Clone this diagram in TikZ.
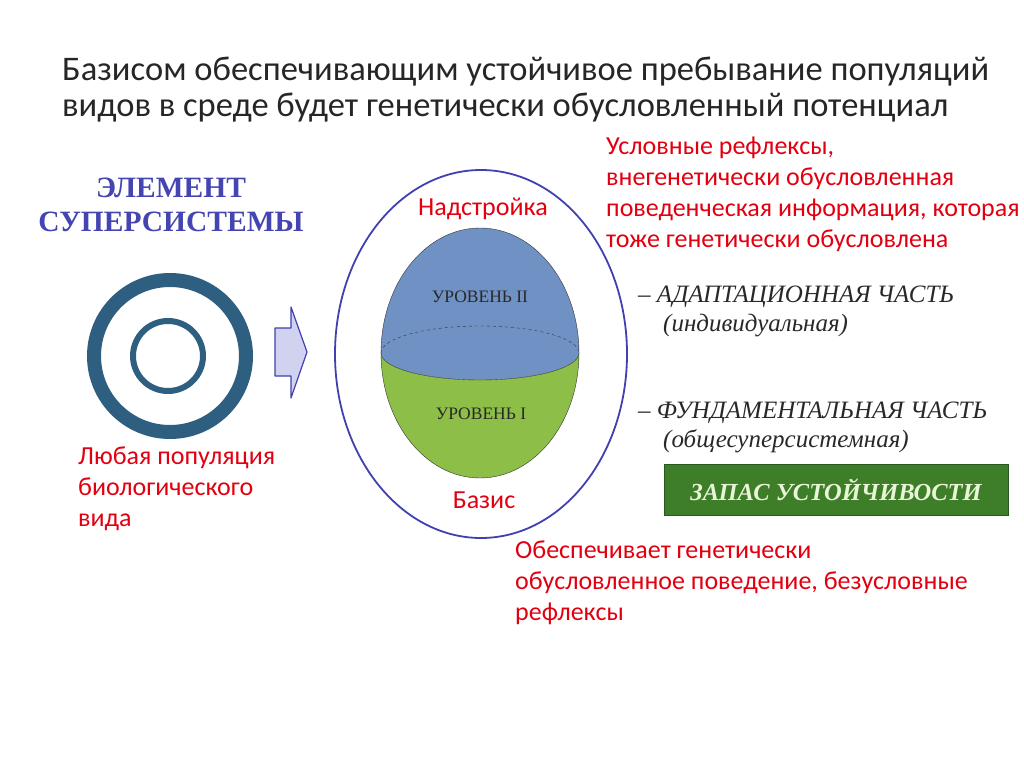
\documentclass[tikz,border=0pt]{standalone}
\usepackage{fontspec}
\setmainfont{Carlito}
\newfontfamily\tnr{Liberation Serif}
\definecolor{redtext}{RGB}{226,0,16}
\definecolor{headblue}{RGB}{68,68,178}
\definecolor{ringblue}{RGB}{46,94,128}
\definecolor{ovalblue}{RGB}{64,64,176}
\definecolor{topblue}{RGB}{112,145,196}
\definecolor{lowgreen}{RGB}{141,190,72}
\definecolor{boxgreen}{RGB}{62,126,40}
\definecolor{darktext}{RGB}{40,40,40}
\tikzset{
  redlabel/.style={text=redtext, font=\fontsize{26}{31}\selectfont, align=left, inner sep=0pt},
  levellabel/.style={text=darktext, font=\tnr\fontsize{17.5}{20}\selectfont, inner sep=0pt},
  partlabel/.style={text=darktext, font=\tnr\itshape\fontsize{25}{29}\selectfont, align=left, inner sep=0pt}
}
\begin{document}
\begin{tikzpicture}[x=1pt,y=-1pt]
\useasboundingbox (0,0) rectangle (1024,767);
% title
\node[anchor=west, align=left, inner sep=0pt, text=black!85, font=\fontsize{34.5}{36}\selectfont] (title) at (62,90)
  {Базисом обеспечивающим устойчивое пребывание популяций\\видов в среде будет генетически обусловленный потенциал};
% left part
\node[text=headblue, font=\tnr\bfseries\fontsize{29.5}{34}\selectfont, align=center, inner sep=0pt] (head) at (171,205)
  {ЭЛЕМЕНТ\\СУПЕРСИСТЕМЫ};
\draw[ringblue, line width=14pt] (170,356) circle (76pt);
\draw[ringblue, line width=6pt] (168,356) circle (35pt);
\draw[ovalblue, fill={rgb,255:red,208;green,210;blue,240}, line width=1.2pt, line join=round]
  (275,328) -- (291,328) -- (291,307) -- (307,352) -- (291,398) -- (291,376) -- (275,376) -- cycle;
\node[redlabel, anchor=west] (anypop) at (78,489) {Любая популяция\\биологического\\вида};
% outer oval and the egg
\draw[ovalblue, line width=1.8pt] (481,354) ellipse (146pt and 184pt);
\fill[topblue] (381,353) arc[start angle=180, end angle=0, x radius=99pt, y radius=125pt]
  arc[start angle=0, end angle=-180, x radius=99pt, y radius=27pt] -- cycle;
\fill[lowgreen] (381,353) arc[start angle=180, end angle=360, x radius=99pt, y radius=125pt]
  arc[start angle=0, end angle=-180, x radius=99pt, y radius=27pt] -- cycle;
\draw[black!80, thin, dashed] (381,353) arc[start angle=180, end angle=0, x radius=99pt, y radius=27pt];
\draw[black!80, thin] (381,353) arc[start angle=180, end angle=360, x radius=99pt, y radius=27pt];
\draw[black!80, thin] (480,353) ellipse (99pt and 125pt);
\node[levellabel] (lev2) at (480,297) {УРОВЕНЬ II};
\node[levellabel] (lev1) at (481,414) {УРОВЕНЬ I};
\node[redlabel] (upper) at (483,209) {Надстройка};
\node[redlabel] (base) at (484,500) {Базис};
% right part
\node[redlabel, anchor=west] (cond) at (606,194) {Условные рефлексы,\\внегенетически обусловленная\\поведенческая информация, которая\\тоже генетически обусловлена};
\node[partlabel, anchor=west] (adapt) at (638,311) {– АДАПТАЦИОННАЯ ЧАСТЬ\\\hspace*{25pt}(индивидуальная)};
\node[partlabel, anchor=west] (fund) at (638,427) {– ФУНДАМЕНТАЛЬНАЯ ЧАСТЬ\\\hspace*{25pt}(общесуперсистемная)};
\node[draw={rgb,255:red,40;green,90;blue,30}, fill=boxgreen, line width=1pt, minimum width=344pt, minimum height=51pt,
  text={rgb,255:red,232;green,245;blue,215}, font=\tnr\bfseries\itshape\fontsize{24.5}{28}\selectfont] (reserve) at (836,490) {ЗАПАС УСТОЙЧИВОСТИ};
\node[redlabel, anchor=west] (gen) at (515,583) {Обеспечивает генетически\\обусловленное поведение, безусловные\\рефлексы};
\end{tikzpicture}
\end{document}
